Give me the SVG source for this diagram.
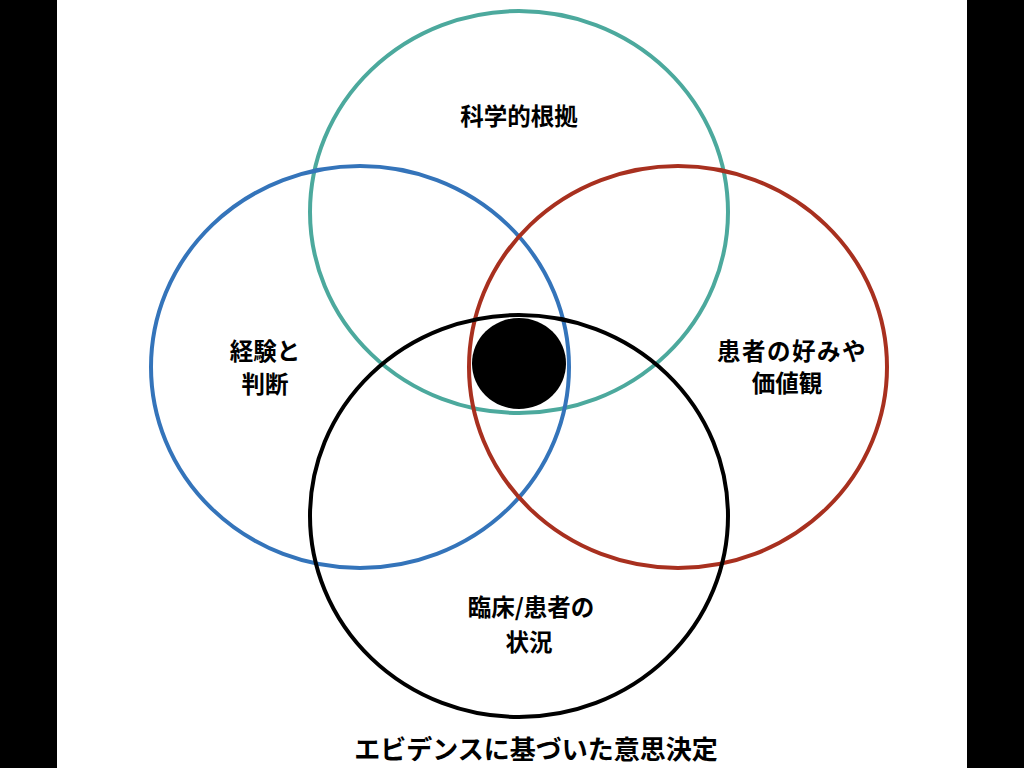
<svg xmlns="http://www.w3.org/2000/svg" width="1024" height="768" viewBox="0 0 1024 768">
<style>
.c{fill:none;stroke-width:4}
.t{font-family:"Noto Sans CJK JP","Noto Sans",sans-serif;font-weight:bold;font-size:23.5px;fill:#000;text-anchor:middle}
</style>
<rect x="0" y="0" width="1024" height="768" fill="#000"/>
<rect x="57" y="0" width="910" height="768" fill="#fff"/>
<g id="connectors"></g>
<g id="science"><ellipse class="c" cx="519" cy="212" rx="209" ry="201" stroke="#4CA99D"/><text class="t" x="519" y="125">科学的根拠</text></g>
<g id="experience"><ellipse class="c" cx="360" cy="367" rx="209" ry="201" stroke="#3474BA"/><text class="t" x="265" y="360">経験と</text><text class="t" x="265" y="393">判断</text></g>
<g id="preference"><ellipse class="c" cx="678" cy="367" rx="209" ry="201" stroke="#A8301F"/><text class="t" x="792" y="360" style="letter-spacing:1.5px">患者の好みや</text><text class="t" x="787" y="392">価値観</text></g>
<g id="situation"><ellipse class="c" cx="519" cy="516" rx="209" ry="201" stroke="#000"/><text class="t" x="531" y="616">臨床/患者の</text><text class="t" x="529" y="651">状況</text></g>
<g id="center"><ellipse cx="519" cy="363.5" rx="47" ry="45.5" fill="#000"/></g>
<g id="title"><text class="t" x="536" y="759" style="font-size:26px">エビデンスに基づいた意思決定</text></g>
</svg>
